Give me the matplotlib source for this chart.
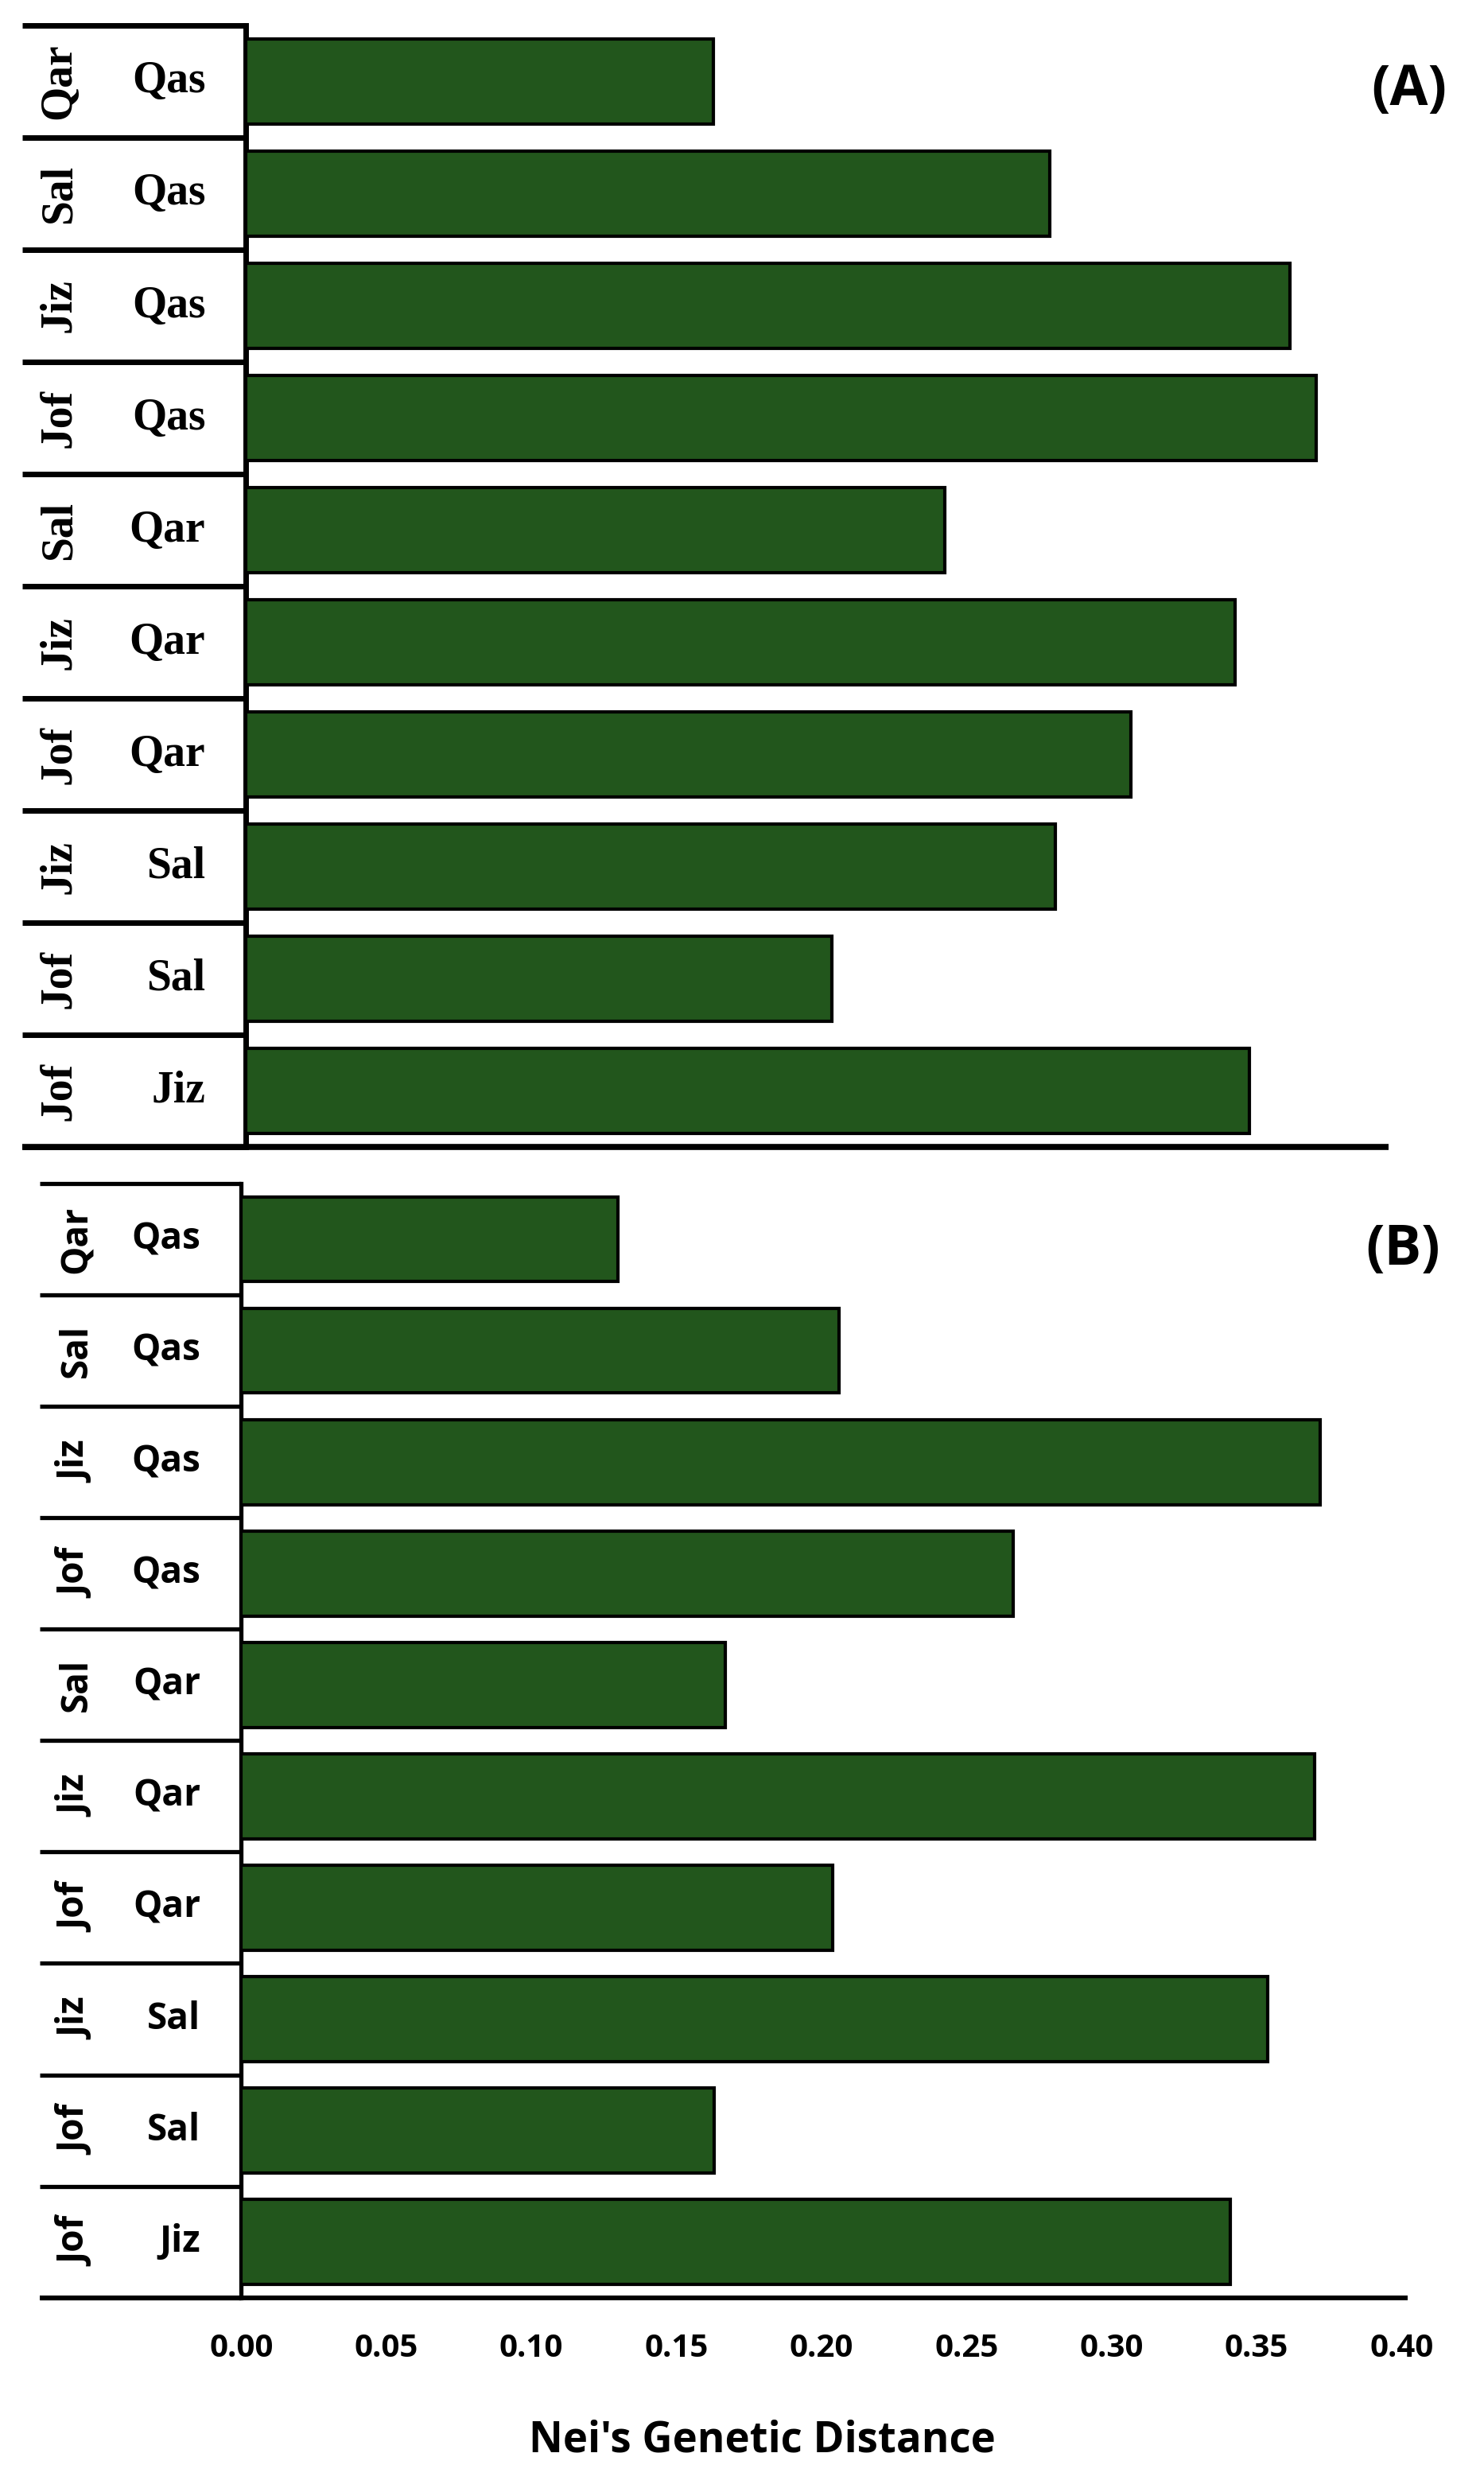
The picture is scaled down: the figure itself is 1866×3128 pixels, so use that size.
import numpy as np
import matplotlib
matplotlib.use('Agg')
import matplotlib.pyplot as plt

# pairs of populations (outer label, inner label), top row first
outer = ['Qar', 'Sal', 'Jiz', 'Jof', 'Sal', 'Jiz', 'Jof', 'Jiz', 'Jof', 'Jof']
inner = ['Qas', 'Qas', 'Qas', 'Qas', 'Qar', 'Qar', 'Qar', 'Sal', 'Sal', 'Jiz']
dist_a = [0.161, 0.277, 0.360, 0.369, 0.241, 0.341, 0.305, 0.279, 0.202, 0.346]
dist_b = [0.130, 0.206, 0.372, 0.266, 0.167, 0.370, 0.204, 0.354, 0.163, 0.341]
xticks = [0.00, 0.05, 0.10, 0.15, 0.20, 0.25, 0.30, 0.35, 0.40]

W, H = 935, 1568  # layout measured on the shrunk reference
fig = plt.figure(figsize=(18.66, 31.28), dpi=100)
axA = fig.add_axes([155 / W, 1 - 723 / H, 731 / W, (723 - 16) / H])
axB = fig.add_axes([152 / W, 1 - 1448 / H, 731 / W, (1448 - 746) / H])

green = '#22561c'


def panel(ax, vals, lab_font, lab_size, left, right, lw, ticks_in):
    y = np.arange(len(vals))
    ax.barh(y, vals, height=0.76, color=green, edgecolor='black', linewidth=3, zorder=3)
    ax.set_xlim(0, 0.40)
    ax.set_ylim(len(vals) - 0.5, -0.5)
    for s in ['top', 'right', 'bottom']:
        ax.spines[s].set_visible(False)
    ax.spines['left'].set_linewidth(lw)
    ax.set_yticks([])
    if ticks_in:
        ax.set_yticks(y)
        ax.set_yticklabels([])
        ax.tick_params(axis='y', direction='in', length=8, width=3)
    tr = ax.get_yaxis_transform()
    # category separators
    for k in range(len(vals) + 1):
        ax.plot([left, 0], [k - 0.5, k - 0.5], color='black', lw=lw,
                transform=tr, clip_on=False, solid_capstyle='butt')
    # bottom axis line
    ax.plot([left, right], [len(vals) - 0.5] * 2, color='black', lw=lw + 0.5,
            transform=tr, clip_on=False, solid_capstyle='butt', zorder=4)
    for i in range(len(vals)):
        ax.text(-0.035, i, inner[i], transform=tr, ha='right', va='center',
                fontsize=lab_size, fontweight='bold', family=lab_font)
        ax.text(left + 0.032, i, outer[i], transform=tr, ha='center', va='center',
                rotation=90, fontsize=lab_size, fontweight='bold', family=lab_font)


panel(axA, dist_a, 'Liberation Serif', 40, -0.193, 0.985, 5, False)
axA.set_xticks([])
panel(axB, dist_b, 'Open Sans', 33, -0.174, 1.005, 3.8, True)
axB.set_xticks(xticks)
axB.set_xticklabels(['%.2f' % t for t in xticks], fontsize=29, fontweight='bold',
                    family='Open Sans')
axB.tick_params(axis='x', length=0, pad=32)

fig.text(888 / W, 1 - 57 / H, '(A)', ha='center', va='center', fontsize=50,
         fontweight='bold', family='Open Sans')
fig.text(884 / W, 1 - 788 / H, '(B)', ha='center', va='center', fontsize=50,
         fontweight='bold', family='Open Sans')
fig.text(480 / W, 1 - 1538 / H, "Nei's Genetic Distance", ha='center', va='center',
         fontsize=38, fontweight='bold', family='Open Sans')

fig.savefig('out.png', dpi=100, facecolor='white')
